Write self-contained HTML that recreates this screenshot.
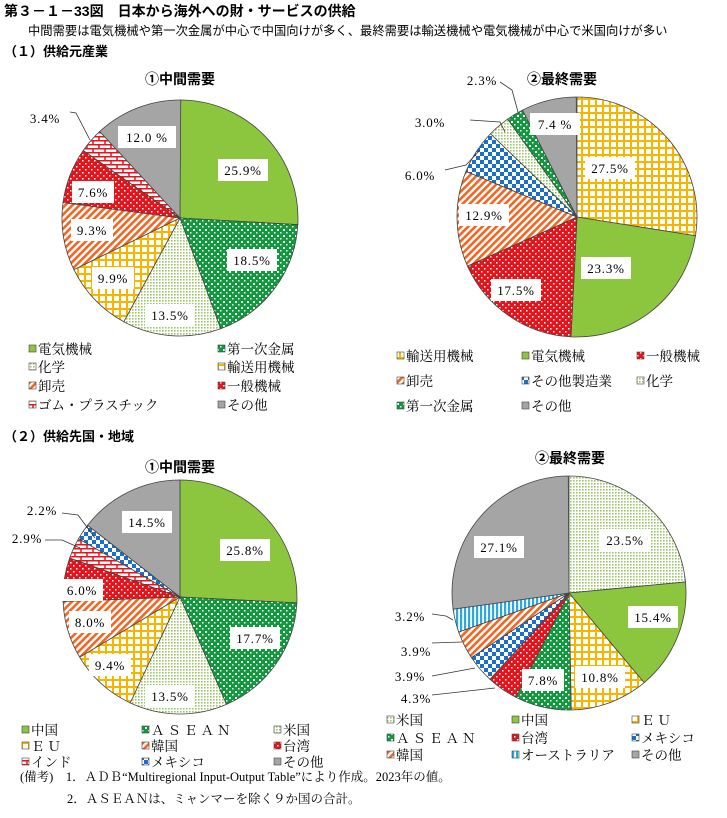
<!DOCTYPE html>
<html><head><meta charset="utf-8">
<style>
body{margin:0;background:#fff;}
svg text{font-family:"Liberation Serif","Noto Serif CJK SC",serif;}
.g{font-family:"Liberation Sans","Noto Sans CJK JP",sans-serif;}
</style></head><body>
<svg id="s" width="727" height="813" viewBox="0 0 727 813" xmlns="http://www.w3.org/2000/svg">
<defs>
<pattern id="pGreen" width="4" height="4" patternUnits="userSpaceOnUse"><rect width="4" height="4" fill="#8cc63f"/></pattern>
<pattern id="pDG" width="6" height="6" patternUnits="userSpaceOnUse"><rect width="6" height="6" fill="#0f9a3c"/><rect x="1" y="1" width="2" height="2" fill="#fff"/><rect x="4" y="4" width="1.5" height="1.5" fill="#fff"/></pattern>
<pattern id="pLG" width="3" height="3" patternUnits="userSpaceOnUse"><rect width="3" height="3" fill="#fff"/><rect width="1.6" height="1.6" fill="#9cc66a"/></pattern>
<pattern id="pYel" width="7" height="7" patternUnits="userSpaceOnUse"><rect width="7" height="7" fill="#fff"/><rect width="7" height="2" fill="#f7b500"/><rect width="2" height="7" fill="#f7b500"/></pattern>
<pattern id="pOr" width="5" height="5" patternUnits="userSpaceOnUse" patternTransform="rotate(45)"><rect width="5" height="5" fill="#fff"/><rect width="2.6" height="5" fill="#f26522"/></pattern>
<pattern id="pRed" width="6" height="6" patternUnits="userSpaceOnUse"><rect width="6" height="6" fill="#e3141c"/><rect x="1" y="1" width="1.5" height="1.5" fill="#fff"/><rect x="4" y="4" width="1.5" height="1.5" fill="#fff"/></pattern>
<pattern id="pBrick" width="12" height="8" patternUnits="userSpaceOnUse"><rect width="12" height="8" fill="#fff"/><path d="M0 0.7H12M0 4.7H12M3 0V4M9 4V8" stroke="#e8141b" stroke-width="1.5"/></pattern>
<pattern id="pGray" width="4" height="4" patternUnits="userSpaceOnUse"><rect width="4" height="4" fill="#a5a5a5"/></pattern>
<pattern id="pBlue" width="8" height="8" patternUnits="userSpaceOnUse"><rect width="8" height="8" fill="#fff"/><rect width="4" height="4" fill="#1a6fc8"/><rect x="4" y="4" width="4" height="4" fill="#1a6fc8"/></pattern>
<pattern id="pLB" width="4" height="4" patternUnits="userSpaceOnUse"><rect width="4" height="4" fill="#fff"/><rect width="2.2" height="4" fill="#2aa9e0"/></pattern>
</defs>
<g id="pies"></g>

<text x="4" y="16" class="g" font-size="14" font-weight="bold">第３－１－33図　日本から海外への財・サービスの供給</text>
<text x="28" y="35" class="g" font-size="12.3">中間需要は電気機械や第一次金属が中心で中国向けが多く、最終需要は輸送機械や電気機械が中心で米国向けが多い</text>
<text x="4" y="56" class="g" font-size="13" font-weight="bold">（１）供給元産業</text>
<text x="4" y="441" class="g" font-size="13" font-weight="bold">（２）供給先国・地域</text>
<text x="180" y="84" class="g" font-size="14" font-weight="bold" text-anchor="middle">①中間需要</text>
<text x="562" y="84" class="g" font-size="14" font-weight="bold" text-anchor="middle">②最終需要</text>
<text x="180" y="472" class="g" font-size="14" font-weight="bold" text-anchor="middle">①中間需要</text>
<text x="570" y="463" class="g" font-size="14" font-weight="bold" text-anchor="middle">②最終需要</text>

<g id="labels"></g>

<g stroke="#333" fill="none" stroke-width="0.8">
<path d="M70 112 L76 113 L90 140"/>
<path d="M470 120 L500 122 L505 132"/>
<path d="M445 170 L466 165 L480 150"/>
<path d="M500 82 L512 90 L518 112"/>
<path d="M62 513 L78 515 L95 538"/>
<path d="M45 540 L62 540 L80 548"/>
<path d="M432 614 L446 616 L453 620"/>
<path d="M432 643 L462 642"/>
<path d="M432 676 L475 668"/>
<path d="M432 695 L450 693 L495 688"/>
</g>

<text x="20" y="781" font-size="12.5">(備考)　1．ＡＤＢ“Multiregional Input-Output Table”により作成。2023年の値。</text>
<text x="67" y="803" font-size="12.5">2．ＡＳＥＡＮは、ミャンマーを除く９か国の合計。</text>
</svg>
<script>
var NS="http://www.w3.org/2000/svg";
var P={gr:"pGreen",dg:"pDG",lg:"pLG",y:"pYel",o:"pOr",r:"pRed",b:"pBrick",gy:"pGray",bl:"pBlue",lb:"pLB"};
function pie(cx,cy,r,data){
  var g=document.getElementById("pies"),a=0;
  data.forEach(function(d){
    var a0=a, a1=a+d[0]/100*2*Math.PI; a=a1;
    var x0=cx+r*Math.sin(a0),y0=cy-r*Math.cos(a0),x1=cx+r*Math.sin(a1),y1=cy-r*Math.cos(a1);
    var p=document.createElementNS(NS,"path");
    p.setAttribute("d","M"+cx+" "+cy+"L"+x0+" "+y0+"A"+r+" "+r+" 0 "+((a1-a0)>Math.PI?1:0)+" 1 "+x1+" "+y1+"Z");
    p.setAttribute("fill","url(#"+P[d[1]]+")");p.setAttribute("stroke","#444");p.setAttribute("stroke-width","0.8");
    g.appendChild(p);
  });
}
pie(180,218,118,[[25.9,"gr"],[18.5,"dg"],[13.5,"lg"],[9.9,"y"],[9.3,"o"],[7.6,"r"],[3.4,"b"],[12.0,"gy"]]);
pie(577,217,120,[[27.5,"y"],[23.3,"gr"],[17.5,"r"],[12.9,"o"],[6.0,"bl"],[3.0,"lg"],[2.3,"dg"],[7.4,"gy"]]);
pie(180,597,117,[[25.8,"gr"],[17.7,"dg"],[13.5,"lg"],[9.4,"y"],[8.0,"o"],[6.0,"r"],[2.9,"b"],[2.2,"bl"],[14.5,"gy"]]);
pie(569,593,117,[[23.5,"lg"],[15.4,"gr"],[10.8,"y"],[7.8,"dg"],[4.3,"r"],[3.9,"bl"],[3.9,"o"],[3.2,"lb"],[27.1,"gy"]]);
var L=[[243,170,"25.9%"],[252,260,"18.5%"],[170,315,"13.5%"],[113,278,"9.9%"],[92,230,"9.3%"],[93,192,"7.6%"],[147,137,"12.0 %"],
[610,168,"27.5%"],[606,268,"23.3%"],[516,290,"17.5%"],[484,215,"12.9%"],[555,124,"7.4 %"],
[245,550,"25.8%"],[255,638,"17.7%"],[170,696,"13.5%"],[110,665,"9.4%"],[90,622,"8.0%"],[82,590,"6.0%"],[147,522,"14.5%"],
[625,540,"23.5%"],[499,547,"27.1%"],[653,617,"15.4%"],[600,677,"10.8%"],[543,680,"7.8%"]];
var lg=document.getElementById("labels");
L.forEach(function(l){
  var w=l[2].length*8+10;
  var rc=document.createElementNS(NS,"rect");
  rc.setAttribute("x",l[0]-w/2);rc.setAttribute("y",l[1]-11);rc.setAttribute("width",w);rc.setAttribute("height",22);rc.setAttribute("fill","#fff");
  lg.appendChild(rc);
});
</script>
<svg width="727" height="813" viewBox="0 0 727 813" style="position:absolute;left:0;top:0" xmlns="http://www.w3.org/2000/svg">
<g font-family="Liberation Serif,Noto Serif CJK SC,serif" font-size="13" text-anchor="middle" letter-spacing="0.8">
<text x="243" y="175">25.9%</text><text x="252" y="265">18.5%</text><text x="170" y="320">13.5%</text><text x="113" y="283">9.9%</text>
<text x="92" y="235">9.3%</text><text x="93" y="197">7.6%</text><text x="147" y="142">12.0 %</text><text x="45" y="123">3.4%</text>
<text x="610" y="173">27.5%</text><text x="606" y="273">23.3%</text><text x="516" y="295">17.5%</text><text x="484" y="220">12.9%</text>
<text x="555" y="129">7.4 %</text><text x="420" y="180">6.0%</text><text x="430" y="127">3.0%</text><text x="482" y="85">2.3%</text>
<text x="245" y="555">25.8%</text><text x="255" y="643">17.7%</text><text x="170" y="701">13.5%</text><text x="110" y="670">9.4%</text>
<text x="90" y="627">8.0%</text><text x="82" y="595">6.0%</text><text x="147" y="527">14.5%</text><text x="42" y="515">2.2%</text><text x="27" y="543">2.9%</text>
<text x="625" y="545">23.5%</text><text x="499" y="552">27.1%</text><text x="653" y="622">15.4%</text><text x="600" y="682">10.8%</text><text x="543" y="685">7.8%</text>
<text x="410" y="621">3.2%</text><text x="416" y="656">3.9%</text><text x="410" y="681">3.9%</text><text x="416" y="703">4.3%</text>
</g>
<g font-family="Liberation Serif,Noto Serif CJK SC,serif" font-size="13.5" stroke="#444" stroke-width="0.6">
<rect x="29" y="345" width="7" height="7" fill="url(#pGreen)"/><rect x="218" y="345" width="7" height="7" fill="url(#pDG)"/>
<rect x="29" y="363" width="7" height="7" fill="url(#pLG)"/><rect x="218" y="363" width="7" height="7" fill="url(#pYel)"/>
<rect x="29" y="382" width="7" height="7" fill="url(#pOr)"/><rect x="218" y="382" width="7" height="7" fill="url(#pRed)"/>
<rect x="29" y="401" width="7" height="7" fill="url(#pBrick)"/><rect x="218" y="401" width="7" height="7" fill="url(#pGray)"/>
<rect x="397" y="352" width="7" height="7" fill="url(#pYel)"/><rect x="522" y="352" width="7" height="7" fill="url(#pGreen)"/><rect x="637" y="352" width="7" height="7" fill="url(#pRed)"/>
<rect x="397" y="377" width="7" height="7" fill="url(#pOr)"/><rect x="522" y="377" width="7" height="7" fill="url(#pBlue)"/><rect x="637" y="377" width="7" height="7" fill="url(#pLG)"/>
<rect x="397" y="402" width="7" height="7" fill="url(#pDG)"/><rect x="522" y="402" width="7" height="7" fill="url(#pGray)"/>
<rect x="22" y="726" width="7" height="7" fill="url(#pGreen)"/><rect x="142" y="726" width="7" height="7" fill="url(#pDG)"/><rect x="274" y="726" width="7" height="7" fill="url(#pLG)"/>
<rect x="22" y="742" width="7" height="7" fill="url(#pYel)"/><rect x="142" y="742" width="7" height="7" fill="url(#pOr)"/><rect x="274" y="742" width="7" height="7" fill="url(#pRed)"/>
<rect x="22" y="758" width="7" height="7" fill="url(#pBrick)"/><rect x="142" y="758" width="7" height="7" fill="url(#pBlue)"/><rect x="274" y="758" width="7" height="7" fill="url(#pGray)"/>
<rect x="387" y="716" width="7" height="7" fill="url(#pLG)"/><rect x="512" y="716" width="7" height="7" fill="url(#pGreen)"/><rect x="632" y="716" width="7" height="7" fill="url(#pYel)"/>
<rect x="387" y="734" width="7" height="7" fill="url(#pDG)"/><rect x="512" y="734" width="7" height="7" fill="url(#pRed)"/><rect x="632" y="734" width="7" height="7" fill="url(#pBlue)"/>
<rect x="387" y="751" width="7" height="7" fill="url(#pOr)"/><rect x="512" y="751" width="7" height="7" fill="url(#pLB)"/><rect x="632" y="751" width="7" height="7" fill="url(#pGray)"/>
<g stroke="none">
<text x="38" y="354">電気機械</text><text x="227" y="354">第一次金属</text>
<text x="38" y="372">化学</text><text x="227" y="372">輸送用機械</text>
<text x="38" y="391">卸売</text><text x="227" y="391">一般機械</text>
<text x="38" y="410">ゴム・プラスチック</text><text x="227" y="410">その他</text>
<text x="406" y="361">輸送用機械</text><text x="531" y="361">電気機械</text><text x="646" y="361">一般機械</text>
<text x="406" y="386">卸売</text><text x="531" y="386">その他製造業</text><text x="646" y="386">化学</text>
<text x="406" y="411">第一次金属</text><text x="531" y="411">その他</text>
<text x="31" y="735">中国</text><text x="151" y="735" letter-spacing="3">ＡＳＥＡＮ</text><text x="283" y="735">米国</text>
<text x="31" y="751" letter-spacing="3">ＥＵ</text><text x="151" y="751">韓国</text><text x="283" y="751">台湾</text>
<text x="31" y="767">インド</text><text x="151" y="767">メキシコ</text><text x="283" y="767">その他</text>
<text x="396" y="725">米国</text><text x="521" y="725">中国</text><text x="641" y="725" letter-spacing="3">ＥＵ</text>
<text x="396" y="743" letter-spacing="3">ＡＳＥＡＮ</text><text x="521" y="743">台湾</text><text x="641" y="743">メキシコ</text>
<text x="396" y="760">韓国</text><text x="521" y="760">オーストラリア</text><text x="641" y="760">その他</text>
</g>
</g>
</svg>
</body></html>
